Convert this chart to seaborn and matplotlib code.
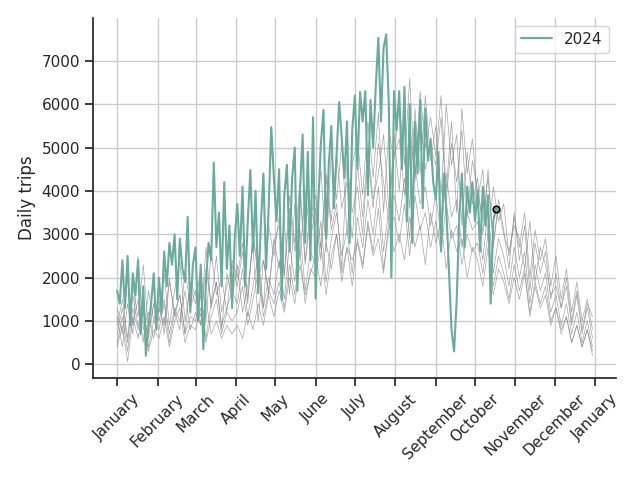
# %%

import pandas as pd
import seaborn as sns
import matplotlib.pyplot as plt
import matplotlib.dates as mdates

sns.set_theme(style="ticks", rc={"axes.grid": True})

# %%

# 2024 daily trips, read every 2nd day from Jan 1 to Oct 17
trips_2024 = [
    1700, 1400, 2400, 1300, 2500, 900, 2100, 1600, 2400, 700, 1800, 200, 900, 1400, 2100, 800,
    2000, 1200, 2600, 1800, 2800, 2300, 3000, 1500, 2900, 2200, 1900, 3400, 1200, 2300,
    2700, 1000, 2300, 350, 1900, 2800, 2400, 4650, 2700, 3500, 1800, 4200, 2200, 3200, 1300, 2900,
    3700, 2500, 4100, 1800, 3300, 4480, 2600, 4000, 1640, 3200, 4400, 2200, 3600, 5470, 4300,
    3300, 4500, 1480, 3900, 4600, 2600, 4300, 5000, 1700, 4000, 5300, 2800, 4900, 2400, 5700,
    1520, 3700, 5100, 5870, 2900, 4600, 5500, 3600, 4800, 6050, 5200, 4300, 5600, 2800, 5400,
    6200, 4500, 6280, 5600, 6300, 3900, 6100, 5000, 6400, 7530, 5600, 7300, 7610, 6000, 2000, 6300,
    5400, 6300, 4500, 6400, 3300, 6000, 2800, 5600, 4400, 6100, 3600, 5900, 4700, 5200, 4200,
    3800, 4900, 2600, 4400, 3600, 2200, 800, 300, 1500, 3400, 4400, 2700, 4100, 3500, 4200,
    3300, 4000, 2600, 4100, 3200, 3900, 1400, 3300, 3580,
]

# earlier years, read every 4th day across the whole year
trips_2018 = [
    700, 1300, 500, 1600, 900, 1200, 600, 1400,
    1000, 1500, 700, 1300, 1000, 1700, 800,
    1200, 900, 1500, 700, 1000, 600, 900, 700,
    900, 600, 1200, 800, 1400, 900, 1600, 1100,
    1700, 1200, 2000, 1400, 2300, 1600, 2100,
    2500, 1800, 2800, 2200, 3000, 1900, 2700, 2400,
    2800, 2200, 3200, 2500, 2900, 2100, 3300, 2600,
    3000, 2400, 3400, 2700, 3200, 2300, 3500,
    2800, 3300, 2200, 3100, 2600, 2900, 2000, 2700,
    2400, 1800, 2700, 1600, 2200, 1900, 1400, 2000,
    1500, 2100, 1100, 1800, 1300, 1600, 900,
    1300, 700, 1100, 500, 900, 400, 800, 300,
]
trips_2019 = [
    400, 900, 60, 1100, 600, 1300, 300, 800,
    600, 1100, 400, 1000, 1300, 500, 900,
    800, 1300, 500, 1100, 1500, 700, 1200, 1000,
    1200, 1800, 900, 1500, 2100, 1100, 1700, 1400,
    1900, 1300, 2300, 1600, 2600, 1400, 2200,
    2000, 2800, 1600, 2500, 3000, 2100, 2700, 1800,
    2900, 2300, 3300, 2600, 3600, 2200, 3100, 3400,
    2800, 3700, 2500, 3900, 3100, 3500, 2700,
    3300, 2600, 3700, 2900, 3200, 2300, 3000, 2600,
    2800, 2100, 3000, 1800, 2500, 2100, 1500, 2300,
    1700, 2200, 1200, 1900, 1400, 1800, 1000,
    1300, 800, 1100, 500, 900, 400, 800, 200,
]
trips_2020 = [
    500, 1100, 300, 1300, 800, 1500, 400, 1000,
    800, 1400, 500, 1200, 1600, 700, 1100,
    1000, 1600, 600, 1400, 1900, 900, 1300, 1700,
    1400, 2200, 1100, 1800, 2500, 1300, 2000, 1600,
    2400, 1500, 2800, 1900, 3100, 1700, 2600,
    2300, 3300, 1900, 2900, 3500, 2500, 3100, 2100,
    3400, 2700, 3800, 3000, 4100, 2600, 3600, 3900,
    3300, 4300, 2900, 4600, 3700, 4100, 3200,
    3900, 3000, 4400, 3400, 3800, 2700, 3500, 3100,
    3300, 2400, 3600, 2100, 2900, 2500, 1800, 2700,
    2000, 2600, 1400, 2300, 1700, 2100, 1200,
    1600, 900, 1400, 700, 1200, 500, 1000, 400,
]
trips_2021 = [
    1300, 700, 2000, 900, 1500, 500, 1700, 1000,
    1500, 700, 1900, 1200, 800, 2200, 1300,
    1700, 900, 2700, 1300, 1900, 800, 2100, 1500,
    2300, 1200, 1800, 2700, 1000, 2400, 1700, 2900,
    2200, 3300, 1600, 3700, 2500, 4000, 2900,
    3600, 2400, 4300, 3100, 3700, 2200, 4700, 3500,
    4100, 3000, 4800, 3600, 5100, 4200, 3300, 5300,
    4000, 5600, 3600, 5900, 4400, 6200, 4700,
    5500, 3900, 6000, 4600, 5300, 3200, 4900, 3700,
    4300, 3000, 4500, 2700, 3800, 3100, 2200, 3500,
    2400, 3200, 1700, 2800, 2100, 2600, 1500,
    2100, 1300, 1800, 900, 1600, 700, 1300, 600,
]
trips_2022 = [
    1100, 400, 1400, 700, 2500, 800, 1200, 600,
    1300, 900, 2000, 1100, 1600, 700, 1900,
    1600, 1100, 2200, 1400, 2500, 1200, 1800, 2300,
    1800, 2600, 1400, 3000, 2000, 2400, 1600, 2800,
    3200, 2000, 3600, 2600, 4000, 2300, 3400,
    3900, 2700, 4400, 3300, 4900, 3600, 4200, 2900,
    4600, 3400, 5000, 3800, 4400, 5300, 3600, 4800,
    5200, 3900, 5500, 4300, 5800, 4500, 5000,
    4600, 5700, 3800, 5100, 4200, 5400, 3400, 4700,
    4000, 3300, 4300, 2800, 3600, 3000, 2600, 3200,
    2900, 2200, 3300, 1900, 2700, 2300, 1600,
    1800, 1300, 2000, 1000, 1700, 800, 1400, 1100,
]
trips_2023 = [
    900, 1500, 600, 1800, 1100, 2300, 800, 1400,
    1200, 2100, 900, 1700, 2400, 1000, 1800,
    1400, 2200, 1000, 2600, 1600, 2000, 1200, 2400,
    2000, 2800, 1500, 3000, 2200, 1300, 3200, 2500,
    3400, 2100, 3900, 2800, 4200, 2400, 3600,
    3200, 4500, 2600, 4900, 3800, 5100, 3000, 4600,
    5200, 3900, 5600, 4300, 5800, 3500, 5400, 4700,
    6100, 4600, 6600, 4200, 6300, 5000, 5700,
    4800, 6200, 4000, 5600, 3500, 5900, 4400, 5200,
    3800, 4500, 2900, 4100, 3300, 3700, 2500, 3400,
    2700, 3500, 2000, 3100, 2400, 2900, 1800,
    2500, 1500, 2200, 1200, 1900, 1000, 1500, 800,
]

past_years = [trips_2018, trips_2019, trips_2020, trips_2021, trips_2022, trips_2023]

# %%

# all years are drawn on one common calendar year
dates_2024 = pd.date_range("2024-01-01", periods=len(trips_2024), freq="2D")
dates_past = pd.date_range("2024-01-01", periods=len(trips_2018), freq="4D")

fig, ax = plt.subplots(figsize=(6.4, 4.8), dpi=100)

for vals in past_years:
    sns.lineplot(x=dates_past, y=vals, color="gray", linewidth=0.5, alpha=0.7, ax=ax)

sns.lineplot(x=dates_2024, y=trips_2024, color="#6aab9c", linewidth=1.5, label="2024", ax=ax)
ax.scatter(dates_2024[-1], trips_2024[-1], s=22, color="#6aab9c", edgecolor="black",
           linewidth=1.2, zorder=5)

ax.xaxis.set_major_locator(mdates.MonthLocator())
ax.xaxis.set_major_formatter(mdates.DateFormatter("%B"))
plt.xticks(rotation=45)

ax.set_xlabel("")
ax.set_ylabel("Daily trips")
ax.legend(loc="upper right")
sns.despine()

plt.tight_layout()
plt.savefig("out.png")
